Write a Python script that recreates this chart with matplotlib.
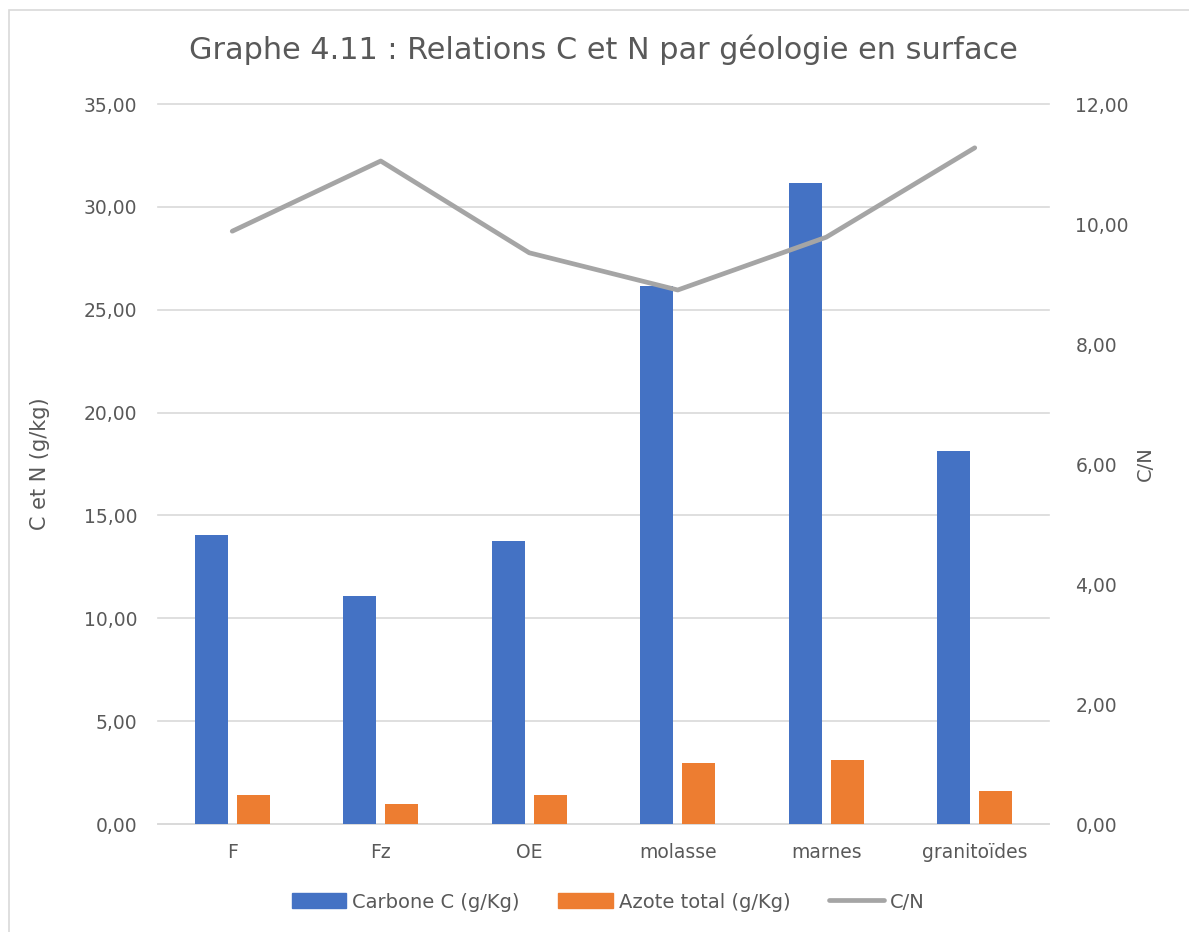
import matplotlib
matplotlib.use("Agg")
import matplotlib.pyplot as plt
from matplotlib.patches import Rectangle
from matplotlib.lines import Line2D
import numpy as np

categories = ["F", "Fz", "OE", "molasse", "marnes", "granitoïdes"]
carbone = [14.03, 11.08, 13.76, 26.17, 31.16, 18.15]
azote = [1.43, 0.99, 1.42, 2.97, 3.12, 1.60]
cn_ratio = [9.88, 11.05, 9.52, 8.90, 9.78, 11.27]
left_ticks = [0, 5, 10, 15, 20, 25, 30, 35]
right_ticks = [0, 2, 4, 6, 8, 10, 12]

plt.rcParams['font.family'] = ['DejaVu Sans']
txt = '#595959'
W, H = 1189, 932
fig = plt.figure(figsize=(W/100, H/100), dpi=100)

# outer chart border
fig.add_artist(Rectangle((9/W, -0.01), 1.1, 1 - 10/H + 0.01, transform=fig.transFigure,
                         fill=False, edgecolor='#D9D9D9', linewidth=1.2))

ax = fig.add_axes([158/W, 1 - 824/H, (1049-158)/W, (824-104)/H])
x = np.arange(len(categories))
bw = 0.222
off = 0.1414
ax.bar(x - off, carbone, bw, color='#4472C4', label='Carbone C (g/Kg)', zorder=3)
ax.bar(x + off, azote, bw, color='#ED7D31', label='Azote total (g/Kg)', zorder=3)
ax.set_xlim(-0.5, len(categories) - 0.5)
ax.set_ylim(0, 35)
ax.set_yticks(left_ticks)
ax.set_yticklabels([f"{v:.2f}".replace('.', ',') for v in left_ticks])
ax.set_xticks(x)
ax.set_xticklabels(categories)
ax.yaxis.grid(True, color='#D9D9D9', linewidth=1.2, zorder=0)
for gl in ax.get_ygridlines():
    gl.set_clip_on(False)
ax.set_axisbelow(True)
for s in ['top', 'right', 'left']:
    ax.spines[s].set_visible(False)
ax.spines['bottom'].set_color('#D9D9D9')
ax.spines['bottom'].set_linewidth(1.2)
ax.tick_params(axis='both', length=0, labelsize=13.5, colors=txt)
ax.tick_params(axis='y', pad=15)
ax.tick_params(axis='x', pad=14)
ax.set_ylabel("C et N (g/kg)", fontsize=15, color=txt, labelpad=24)

ax2 = ax.twinx()
ax2.plot(x, cn_ratio, color='#A5A5A5', linewidth=3.4, solid_capstyle='round', zorder=4, label='C/N')
ax2.set_ylim(0, 12)
ax2.set_yticks(right_ticks)
ax2.set_yticklabels([f"{v:.2f}".replace('.', ',') for v in right_ticks])
for s in ['top', 'right', 'left', 'bottom']:
    ax2.spines[s].set_visible(False)
ax2.tick_params(axis='y', length=0, labelsize=13.5, colors=txt, pad=19)
ax2.set_ylabel("C/N", fontsize=14, color=txt, rotation=90, labelpad=5)

fig.suptitle("Graphe 4.11 : Relations C et N par géologie en surface", x=603/W, y=1 - 50/H,
             va='center', fontsize=21.8, color=txt)

handles = [Rectangle((0, 0), 1, 1, color='#4472C4'),
           Rectangle((0, 0), 1, 1, color='#ED7D31'),
           Line2D([0], [0], color='#A5A5A5', linewidth=3.4, solid_capstyle='round')]
labels = ['Carbone C (g/Kg)', 'Azote total (g/Kg)', 'C/N']
fig.legend(handles, labels, loc='center', bbox_to_anchor=(608/W, 1 - 902/H), ncol=3,
           frameon=False, fontsize=14, labelcolor=txt, handlelength=2.8, handleheight=0.8,
           handletextpad=0.3, columnspacing=2.0)

fig.savefig("out.png", dpi=100)
